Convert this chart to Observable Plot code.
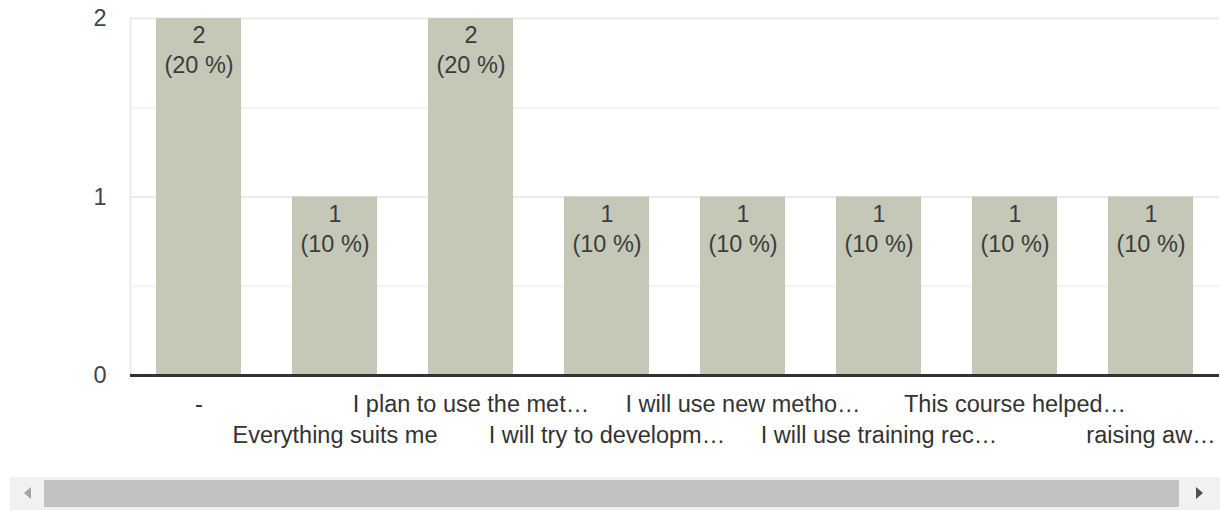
<!DOCTYPE html>
<html>
<head>
<meta charset="utf-8">
<script src="https://cdn.jsdelivr.net/npm/d3@7"></script>
<script src="https://cdn.jsdelivr.net/npm/@observablehq/plot@0.6"></script>
<style>
  html, body { margin: 0; padding: 0; background: #fff; }
  #wrap { position: relative; width: 1220px; height: 510px; overflow: hidden; }
  #chart { position: absolute; left: 0; top: 0; }
  .sb-track { position: absolute; left: 10px; top: 477px; width: 1210px; height: 33px; background: #f1f1f1; }
  .sb-thumb { position: absolute; left: 44px; top: 480px; width: 1135px; height: 27px; background: #c1c1c1; }
  .sb-left { position: absolute; left: 24px; top: 487px; width: 0; height: 0;
    border-top: 6.5px solid transparent; border-bottom: 6.5px solid transparent; border-right: 7px solid #a3a3a3; }
  .sb-right { position: absolute; left: 1196px; top: 487px; width: 0; height: 0;
    border-top: 6.5px solid transparent; border-bottom: 6.5px solid transparent; border-left: 7px solid #505050; }
</style>
</head>
<body>
<div id="wrap">
  <div id="chart"></div>
  <div class="sb-track"></div>
  <div class="sb-thumb"></div>
  <div class="sb-left"></div>
  <div class="sb-right"></div>
</div>
<script>
const categories = [
  "-",
  "Everything suits me",
  "I plan to use the met…",
  "I will try to developm…",
  "I will use new metho…",
  "I will use training rec…",
  "This course helped…",
  "raising aw…"
];
const counts = [2, 1, 2, 1, 1, 1, 1, 1];
const percents = ["20 %", "10 %", "20 %", "10 %", "10 %", "10 %", "10 %", "10 %"];
const yTicks = [0, 1, 2];
const majorGrid = [1, 2];
const minorGrid = [0.5, 1.5];

const data = categories.map((c, i) => ({
  cat: c, count: counts[i], pct: percents[i], row: i % 2,
  label: `${counts[i]}\n(${percents[i]})`
}));

const font = "Arial, 'Liberation Sans', sans-serif";

const chart = Plot.plot({
  width: 1220,
  height: 470,
  marginLeft: 130,
  marginRight: 1,
  marginTop: 18,
  marginBottom: 95,
  style: { fontFamily: font, fontSize: "23.5px", color: "#444", background: "#fff", overflow: "visible" },
  x: { domain: categories, paddingInner: 0.375, paddingOuter: 0.1875, axis: null },
  y: { domain: [0, 2], axis: null },
  marks: [
    Plot.ruleY(minorGrid, { stroke: "#f4f4f4", strokeWidth: 2 }),
    Plot.ruleY(majorGrid, { stroke: "#ebebeb", strokeWidth: 2 }),
    Plot.frame({ anchor: "left", stroke: "#ebebeb", strokeWidth: 2 }),
    Plot.barY(data, { x: "cat", y: "count", fill: "#c5c8b7" }),
    Plot.ruleY([0], { stroke: "#333", strokeWidth: 3 }),
    Plot.axisY({ ticks: yTicks, tickSize: 0, tickPadding: 24, label: null, fill: "#444", fontSize: 23.5, tickFormat: d => String(d) }),
    Plot.text(data, {
      x: "cat", y: "count", text: "label", dy: 30, lineAnchor: "middle",
      lineHeight: 1.28, fill: "#3c3c3c", fontSize: 23.5
    }),
    Plot.text(data.filter(d => d.row === 0), {
      x: "cat", frameAnchor: "bottom", text: "cat", dy: 29, lineAnchor: "middle",
      fill: "#333", fontSize: 23.5
    }),
    Plot.text(data.filter(d => d.row === 1), {
      x: "cat", frameAnchor: "bottom", text: "cat", dy: 60, lineAnchor: "middle",
      fill: "#333", fontSize: 23.5
    })
  ]
});
document.getElementById("chart").appendChild(chart);
</script>
</body>
</html>
